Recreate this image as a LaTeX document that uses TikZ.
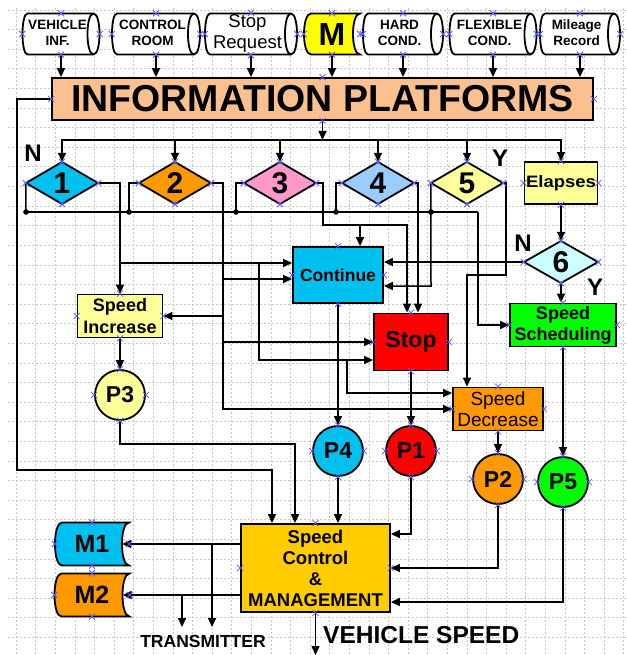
\documentclass[tikz,border=0pt]{standalone}
\usepackage{fontspec}
\setmainfont{Liberation Sans}
\usetikzlibrary{arrows.meta,calc}
\definecolor{cpeach}{HTML}{FAC090}
\definecolor{ccyan}{HTML}{00C0F0}
\definecolor{corange}{HTML}{FF9900}
\definecolor{cpink}{HTML}{FF99CC}
\definecolor{cblue}{HTML}{99CCFF}
\definecolor{cly}{HTML}{FFFF99}
\definecolor{clc}{HTML}{CCFFFF}
\definecolor{cgreen}{HTML}{00FF00}
\definecolor{cgold}{HTML}{FFCC00}
\definecolor{cyel}{HTML}{FFFF00}
\definecolor{cred}{HTML}{FF0000}
\definecolor{pinblue}{HTML}{5A5AFF}
\tikzset{
 conn/.style={line width=1.5pt, draw=black},
 arr/.style={conn, -{Triangle[length=9pt,width=8pt]}},
 shp/.style={line width=1.8pt, draw=black},
 box/.style={shp, rectangle, inner sep=0pt, align=center},
 circ/.style={shp, circle, minimum size=50pt, inner sep=0pt, font=\fontsize{23}{23}\selectfont\bfseries},
 ghost/.style={rectangle, inner sep=0pt, align=center},
 toptxt/.style={ghost, font=\fontsize{13.5}{16}\selectfont\bfseries},
 dgt/.style={ghost, font=\fontsize{30}{30}\selectfont\bfseries},
 lbl/.style={font=\fontsize{24}{24}\selectfont\bfseries, inner sep=0pt},
 gridl/.style={gray!45, line width=0.6pt, dash pattern=on 2pt off 2pt},
 pinc/.style={pinblue, line width=0.8pt},
 xmark/.pic={\draw[pinc] (-3,-3) -- (3,3) (-3,3) -- (3,-3);},
}
\newcommand\cylshape[4]{%
 \pgfmathsetmacro\cxa{#1-#3/2}\pgfmathsetmacro\cxb{#1+#3/2}%
 \pgfmathsetmacro\cya{#2-#4/2}\pgfmathsetmacro\cyb{#2+#4/2}%
 \draw[shp, fill=white] (\cxa+5,\cya) -- (\cxb-6,\cya) .. controls (\cxb+2,\cya) and (\cxb+2,\cyb) .. (\cxb-6,\cyb) -- (\cxa+5,\cyb) .. controls (\cxa-1.67,\cyb) and (\cxa-1.67,\cya) .. (\cxa+5,\cya) -- cycle;
 \draw[shp] (\cxb-6,\cya) .. controls (\cxb-14,\cya) and (\cxb-14,\cyb) .. (\cxb-6,\cyb);}
\newcommand\sdshape[5]{%
 \pgfmathsetmacro\cxa{#1-#3/2}\pgfmathsetmacro\cxb{#1+#3/2}%
 \pgfmathsetmacro\cya{#2-#4/2}\pgfmathsetmacro\cyb{#2+#4/2}%
 \draw[shp, fill=#5] (\cxa+7,\cya) -- (\cxb,\cya) .. controls (\cxb-9.33,\cya) and (\cxb-9.33,\cyb) .. (\cxb,\cyb) -- (\cxa+7,\cyb) .. controls (\cxa-2.33,\cyb) and (\cxa-2.33,\cya) .. (\cxa+7,\cya) -- cycle;}
\newcommand\dmshape[5]{%
 \draw[shp, fill=#5] (#1-#3/2,#2) -- (#1,#2-#4/2) -- (#1+#3/2,#2) -- (#1,#2+#4/2) -- cycle;}
\newcommand\cyltext[2]{\begin{tabular}{@{}c@{}}#1\\#2\end{tabular}\hspace{7pt}}
\begin{document}
\begin{tikzpicture}[x=1pt,y=-1pt]
\useasboundingbox (0,0) rectangle (626,655);
\fill[white] (0,0) rectangle (626,655);
\foreach \i in {0,...,31} \draw[gridl] ({16+19.6*\i},8) -- ({16+19.6*\i},655);
\foreach \j in {0,...,32} \draw[gridl] (8,{10+19.6*\j}) -- (626,{10+19.6*\j});

% top row
\cylshape{61}{34}{77}{41}
\node[toptxt, minimum width=77pt, minimum height=41pt] (vin) at (61,34) {\cyltext{VEHICLE}{INF.}};
\cylshape{156}{34}{88}{41}
\node[toptxt, minimum width=88pt, minimum height=41pt] (cr) at (156,34) {\cyltext{CONTROL}{ROOM}};
\cylshape{251}{34}{92}{41}
\node[ghost, font=\fontsize{18.5}{21}\selectfont, minimum width=92pt, minimum height=41pt] (sr) at (251,34) {\cyltext{Stop}{Request}};
\sdshape{332}{34}{56}{41}{cyel}
\node[ghost, font=\fontsize{32}{32}\selectfont\bfseries, minimum width=56pt, minimum height=41pt] (mt) at (332,34) {M};
\cylshape{403}{34}{80}{41}
\node[toptxt, minimum width=80pt, minimum height=41pt] (hc) at (403,34) {\cyltext{HARD}{COND.}};
\cylshape{493}{34}{87}{41}
\node[toptxt, minimum width=87pt, minimum height=41pt] (fc) at (493,34) {\cyltext{FLEXIBLE}{COND.}};
\cylshape{580}{34}{80}{41}
\node[toptxt, minimum width=80pt, minimum height=41pt] (mr) at (580,34) {\cyltext{Mileage}{Record}};

\node[box, fill=cpeach, minimum width=541pt, minimum height=42pt, font=\fontsize{37.5}{38}\selectfont\bfseries] (ip) at (322.5,99) {INFORMATION PLATFORMS};
\foreach \n in {vin,cr,sr,mt,hc,fc,mr} \draw[arr] (\n.south) -- (\n.south |- ip.north);

% decision row
\dmshape{62}{183}{72}{42}{ccyan}
\node[dgt, minimum width=72pt, minimum height=42pt] (d1) at (62,183) {1};
\dmshape{175}{183}{72}{42}{corange}
\node[dgt, minimum width=72pt, minimum height=42pt] (d2) at (175,183) {2};
\dmshape{280}{183}{72}{42}{cpink}
\node[dgt, minimum width=72pt, minimum height=42pt] (d3) at (280,183) {3};
\dmshape{378}{183}{72}{42}{cblue}
\node[dgt, minimum width=72pt, minimum height=42pt] (d4) at (378,183) {4};
\dmshape{467}{183}{72}{42}{cly}
\node[dgt, minimum width=72pt, minimum height=42pt] (d5) at (467,183) {5};
\node[box, fill=cly, minimum width=73pt, minimum height=42pt, font=\fontsize{16.5}{18}\selectfont\bfseries] (el) at (561,183) {\scalebox{1.12}[1]{Elapses}};
\dmshape{561}{262}{74}{42}{clc}
\node[dgt, minimum width=74pt, minimum height=42pt] (d6) at (561,262) {6};
\node[box, fill=cgreen, minimum width=106pt, minimum height=43pt, font=\fontsize{18}{21}\selectfont\bfseries] (ss) at (563,325) {Speed\\Scheduling};

\node[lbl] (lN1) at (33,153) {N};
\node[lbl] (lY5) at (500,158) {Y};
\node[lbl] (lN6) at (523,243) {N};
\node[lbl] (lY6) at (595,287) {Y};

% middle boxes
\node[box, fill=ccyan, minimum width=90pt, minimum height=56pt, font=\fontsize{17.5}{20}\selectfont\bfseries] (co) at (338,275) {Continue};
\node[box, fill=cred, minimum width=74pt, minimum height=57pt, font=\fontsize{23}{24}\selectfont\bfseries] (st) at (411,342) {Stop};
\node[box, fill=cly, minimum width=85pt, minimum height=43pt, font=\fontsize{18}{22}\selectfont\bfseries] (si) at (120,316) {Speed\\Increase};
\node[box, fill=corange, minimum width=90pt, minimum height=43pt, font=\fontsize{19}{20.5}\selectfont] (sd) at (498,409) {Speed\\Decrease};

\node[circ, fill=cly] (p3) at (120,395) {P3};
\node[circ, fill=ccyan] (p4) at (338,451) {P4};
\node[circ, fill=cred] (p1) at (411,451) {P1};
\node[circ, fill=corange] (p2) at (498,479) {P2};
\node[circ, fill=cgreen] (p5) at (563,482) {P5};

\node[box, fill=cgold, minimum width=149pt, minimum height=88pt, font=\fontsize{18.5}{21}\selectfont\bfseries] (sc) at (315.5,568) {Speed\\Control\\\&\\MANAGEMENT};
\sdshape{92}{544}{74}{43}{ccyan}
\node[ghost, font=\fontsize{25}{25}\selectfont\bfseries, minimum width=74pt, minimum height=43pt] (m1) at (92,544) {M1};
\sdshape{92}{595}{75}{43}{corange}
\node[ghost, font=\fontsize{25}{25}\selectfont\bfseries, minimum width=75pt, minimum height=43pt] (m2) at (92,595) {M2};

% bus from platform
\coordinate (bus) at (322.5,140);
\draw[arr] (ip.south) -- (bus);
\foreach \n in {d1,d2,d3,d4,d5,el} \draw[arr] (bus) -| (\n.north);
\draw[arr] (el.south) -- (d6.north);
\draw[arr] (d6.south) -- (d6.south |- ss.north);

% N bus
\coordinate (nb) at (478,212);
\coordinate (j1) at (26,212);
\coordinate (j2) at (129,212);
\coordinate (j3) at (236,212);
\coordinate (j4) at (336,212);
\coordinate (j5) at (431,212);
\draw[conn] (d1.west) -- (j1);
\draw[conn] (d2.west) -| (j2);
\draw[conn] (d3.west) -| (j3);
\draw[conn] (d4.west) -| (j4);
\draw[conn] (j1) -- (nb);
\draw[arr] (nb) |- (ss.west);
\coordinate (c5) at (431,286);
\draw[arr] (d5.west) -- (c5) -- (c5 -| co.east);
\foreach \c in {j1,j2,j3,j4,j5} \fill (\c) circle[radius=2.8];

% d1 branches
\draw[arr] (d1.east) -| (si.north);
\coordinate (k1) at (120,263);
\draw[arr] (k1) -- (k1 -| co.west);
\coordinate (k2) at (259,263);
\coordinate (k3) at (259,360);
\draw[arr] (k2) -- (k3) -- (k3 -| st.west);
\coordinate (k4) at (347,360);
\coordinate (k5) at (347,393);
\draw[arr] (k4) -- (k5) -- (k5 -| sd.west);

% d2 branches
\coordinate (e2) at (223,409);
\draw[arr] (d2.east) -| (e2) -- (e2 -| sd.west);
\coordinate (b1) at (223,279);
\draw[arr] (b1) -- (b1 -| co.west);
\coordinate (b2) at (223,316);
\draw[arr] (b2) -- (si.east);
\coordinate (b3) at (223,342);
\draw[arr] (b3) -- (st.west);

% d3 branches
\coordinate (g1) at (323,225);
\coordinate (g2) at (407,225);
\coordinate (g3) at (360,225);
\draw[arr] (d3.east) -| (g1) -- (g2) -- (g2 |- st.north);
\draw[arr] (g3) -- (g3 |- co.north);

% d4, d5, d6
\coordinate (h1) at (418,183);
\draw[arr] (d4.east) -- (h1) -- (h1 |- st.north);
\coordinate (q1) at (506,275);
\coordinate (q2) at (467,275);
\draw[arr] (d5.east) -| (q1) -- (q2) -- (q2 |- sd.north);
\draw[arr] (d6.west) -- (d6.west -| co.east);

% downward
\draw[arr] (co.south) -- (p4.north);
\draw[arr] (st.south) -- (p1.north);
\draw[arr] (sd.south) -- (p2.north);
\draw[arr] (si.south) -- (p3.north);
\draw[arr] (ss.south) -- (p5.north);

% into speed control
\coordinate (L1) at (17,99);
\coordinate (L2) at (17,470);
\coordinate (L3) at (272,470);
\draw[arr] (ip.west) -- (L1) -- (L2) -- (L3) -- (L3 |- sc.north);
\coordinate (r1) at (120,444);
\coordinate (r2) at (295,444);
\draw[arr] (p3.south) -- (r1) -- (r2) -- (r2 |- sc.north);
\draw[arr] (p4.south) -- (p4.south |- sc.north);
\coordinate (s1) at (411,534);
\draw[arr] (p1.south) -- (s1) -- (s1 -| sc.east);
\draw[arr] (p2.south) |- (sc.east);
\coordinate (s2) at (563,602);
\draw[arr] (p5.south) -- (s2) -- (s2 -| sc.east);

% outputs
\draw[arr] (sc.west |- m1.east) -- ([xshift=-7pt]m1.east);
\draw[arr] (sc.west |- m2.east) -- ([xshift=-7pt]m2.east);
\coordinate (t1) at (212,544);
\coordinate (t1b) at (212,627);
\draw[arr] (t1) -- (t1b);
\coordinate (t2) at (182,595);
\coordinate (t2b) at (182,627);
\draw[arr] (t2) -- (t2b);
\node[font=\fontsize{17.5}{18}\selectfont\bfseries, inner sep=0pt] (tx) at (203,641) {TRANSMITTER};
\coordinate (vs) at (315.5,655);
\draw[arr] (sc.south) -- (vs);
\node[font=\fontsize{24.5}{25}\selectfont\bfseries, anchor=west, inner sep=0pt] (vst) at (323,635) {VEHICLE SPEED};

% connection point marks
\foreach \n in {vin,cr,sr,mt,hc,fc,mr,ip,d1,d2,d3,d4,d5,el,d6,ss,co,st,si,sd,p1,p2,p3,p4,p5,sc,m1,m2}
  \foreach \an in {north,south,east,west} \pic at (\n.\an) {xmark};
\end{tikzpicture}
\end{document}
